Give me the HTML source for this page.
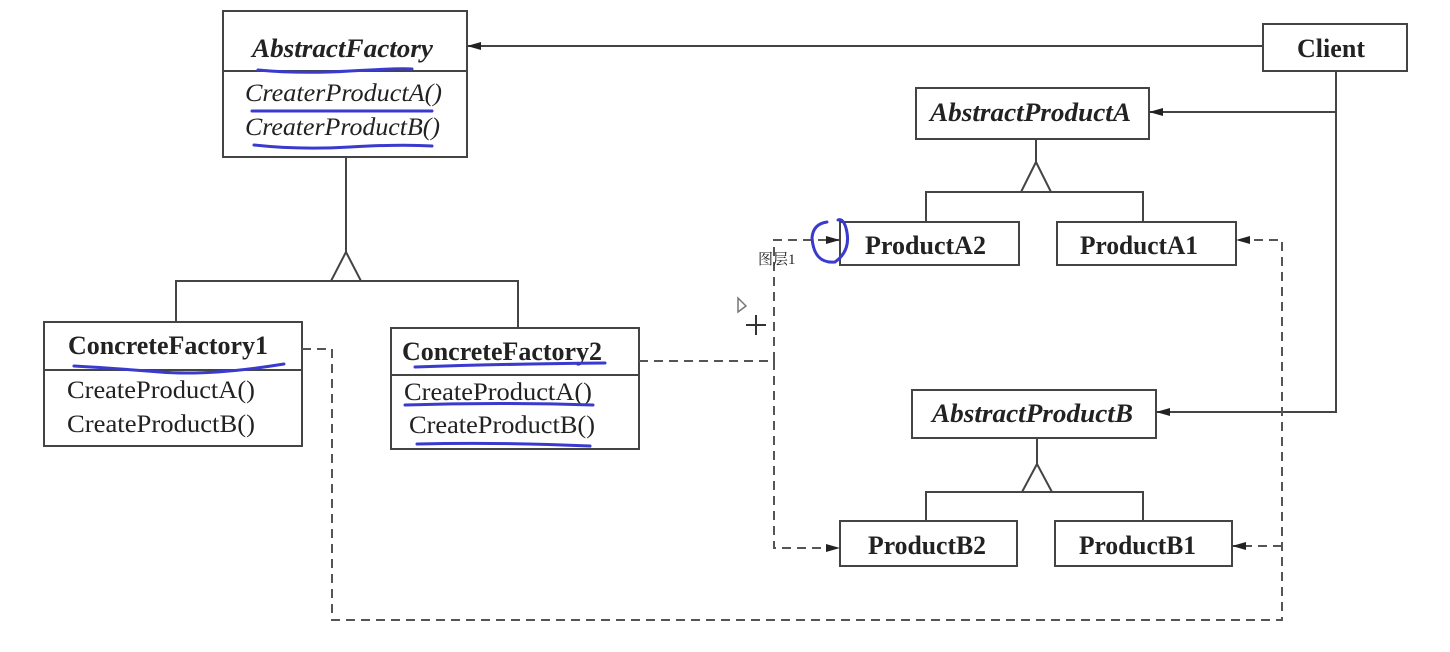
<!DOCTYPE html>
<html><head><meta charset="utf-8"><style>
html,body{margin:0;padding:0;background:#fff;}
svg{display:block;}
text{font-family:"Liberation Serif","Noto Serif CJK SC",serif;fill:#222;}
.b{font-weight:bold;font-size:26px;}
.m{font-size:25px;}
</style></head><body>
<svg width="1450" height="652" viewBox="0 0 1450 652" xmlns="http://www.w3.org/2000/svg">
<defs>
<marker id="ar" markerWidth="14" markerHeight="10" refX="13" refY="5" orient="auto" markerUnits="userSpaceOnUse">
<path d="M0,1 L14,5 L0,9 Z" fill="#222"/></marker>
</defs>
<g fill="none" stroke="#444" stroke-width="2">
<rect x="223" y="11" width="244" height="146"/><line x1="223" y1="71" x2="467" y2="71"/>
<rect x="1263" y="24" width="144" height="47"/>
<rect x="916" y="88" width="233" height="51"/>
<rect x="840" y="222" width="179" height="43"/>
<rect x="1057" y="222" width="179" height="43"/>
<rect x="912" y="390" width="244" height="48"/>
<rect x="840" y="521" width="177" height="45"/>
<rect x="1055" y="521" width="177" height="45"/>
<rect x="44" y="322" width="258" height="124"/><line x1="44" y1="370" x2="302" y2="370"/>
<rect x="391" y="328" width="248" height="121"/><line x1="391" y1="375" x2="639" y2="375"/>
<line x1="1263" y1="46" x2="468" y2="46" marker-end="url(#ar)"/>
<polyline points="1336,71 1336,412 1157,412" marker-end="url(#ar)"/>
<line x1="1336" y1="112" x2="1150" y2="112" marker-end="url(#ar)"/>
<line x1="346" y1="157" x2="346" y2="252"/>
<path d="M346,252 L331,281 L361,281 Z"/>
<polyline points="176,322 176,281 518,281 518,328"/>
<line x1="1036" y1="139" x2="1036" y2="162"/>
<path d="M1036,162 L1021,192 L1051,192 Z"/>
<polyline points="926,222 926,192 1143,192 1143,222"/>
<line x1="1037" y1="438" x2="1037" y2="464"/>
<path d="M1037,464 L1022,492 L1052,492 Z"/>
<polyline points="926,521 926,492 1143,492 1143,521"/>
</g>
<g fill="none" stroke="#555" stroke-width="2" stroke-dasharray="9,6">
<polyline points="302,349 332,349 332,620 1282,620 1282,240 1237,240" marker-end="url(#ar)"/>
<line x1="1282" y1="546" x2="1233" y2="546" marker-end="url(#ar)"/>
<polyline points="639,361 774,361 774,240 839,240" marker-end="url(#ar)"/>
<polyline points="774,361 774,548 839,548" marker-end="url(#ar)"/>
</g>
<g lengthAdjust="spacingAndGlyphs">
<text class="b" x="252" y="57" font-style="italic" textLength="181" lengthAdjust="spacingAndGlyphs">AbstractFactory</text>
<text class="m" x="245" y="101" font-style="italic" textLength="197" lengthAdjust="spacingAndGlyphs">CreaterProductA()</text>
<text class="m" x="245" y="135" font-style="italic" textLength="195" lengthAdjust="spacingAndGlyphs">CreaterProductB()</text>
<text class="b" x="1297" y="57" textLength="68" lengthAdjust="spacingAndGlyphs">Client</text>
<text class="b" x="930" y="121" font-style="italic" textLength="201" lengthAdjust="spacingAndGlyphs">AbstractProductA</text>
<text class="b" x="865" y="254" textLength="121" lengthAdjust="spacingAndGlyphs">ProductA2</text>
<text class="b" x="1080" y="254" textLength="118" lengthAdjust="spacingAndGlyphs">ProductA1</text>
<text class="b" x="932" y="422" font-style="italic" textLength="201" lengthAdjust="spacingAndGlyphs">AbstractProductB</text>
<text class="b" x="868" y="554" textLength="118" lengthAdjust="spacingAndGlyphs">ProductB2</text>
<text class="b" x="1079" y="554" textLength="117" lengthAdjust="spacingAndGlyphs">ProductB1</text>
<text class="b" x="68" y="354" textLength="200" lengthAdjust="spacingAndGlyphs">ConcreteFactory1</text>
<text class="m" x="67" y="398" textLength="188" lengthAdjust="spacingAndGlyphs">CreateProductA()</text>
<text class="m" x="67" y="432" textLength="188" lengthAdjust="spacingAndGlyphs">CreateProductB()</text>
<text class="b" x="402" y="360" textLength="200" lengthAdjust="spacingAndGlyphs">ConcreteFactory2</text>
<text class="m" x="404" y="400" textLength="188" lengthAdjust="spacingAndGlyphs">CreateProductA()</text>
<text class="m" x="409" y="433" textLength="186" lengthAdjust="spacingAndGlyphs">CreateProductB()</text>
</g>
<text x="758" y="264" font-size="15" fill="#777">图层1</text>
<g fill="none" stroke="#3a3acf" stroke-width="3" stroke-linecap="round">
<path d="M258,70 Q300,74 350,71 T412,69"/>
<path d="M252,111 L432,111"/>
<path d="M254,145 Q300,150 350,147 T432,146"/>
<path d="M74,366 Q110,368 160,372 T284,364"/>
<path d="M415,367 Q500,364 605,363"/>
<path d="M405,405 Q500,402 593,405"/>
<path d="M417,444 Q500,442 590,446"/>
<path d="M827,222 Q813,224 812,238 Q814,264 835,262 Q852,250 846,228 Q843,218 838,220"/>
</g>
<path d="M738,298 L746,306 L738,312 Z" fill="none" stroke="#777" stroke-width="1.5"/>
<path d="M756,315 L756,335 M746,325 L766,325" stroke="#333" stroke-width="2"/>
</svg>
</body></html>
